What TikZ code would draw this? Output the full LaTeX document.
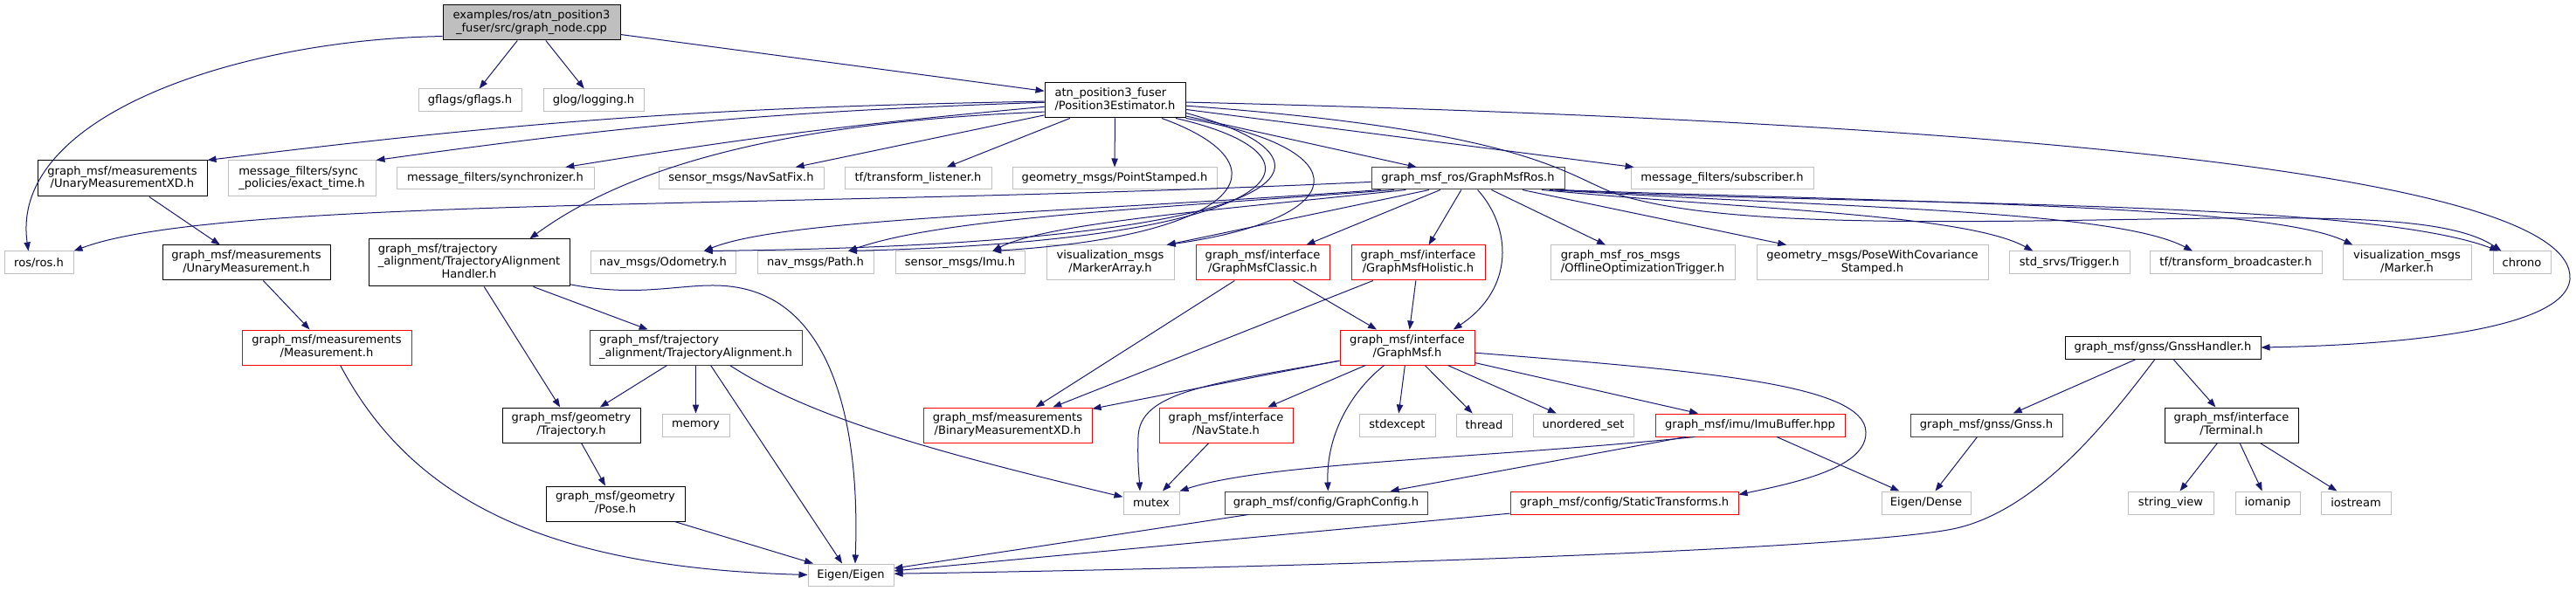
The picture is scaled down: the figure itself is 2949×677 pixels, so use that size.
\documentclass[tikz,border=0pt]{standalone}
\usepackage{fontspec}
\setmainfont{DejaVu Sans}
\usetikzlibrary{arrows.meta,calc}
\definecolor{edgec}{HTML}{191970}
\definecolor{lgrey}{HTML}{BFBFBF}
\definecolor{dgrey}{HTML}{404040}
\newcommand{\twol}[2]{\begin{tabular}{@{}l@{}}#1\\\multicolumn{1}{@{}c@{}}{#2}\end{tabular}}
\newcommand{\threel}[3]{\begin{tabular}{@{}l@{}}#1\\#2\\\multicolumn{1}{@{}c@{}}{#3}\end{tabular}}
\newcommand{\mkbox}[7]{\node[#2, minimum width={(#5-#3)*0.75pt}, minimum height={(#6-#4)*0.75pt}] (#1) at ({(#3+#5)/2},{(#4+#6)/2}) {#7};}
\tikzset{
  box/.style={draw, rectangle, inner sep=0pt, align=center, font=\fontsize{9.8}{11}\selectfont, line width=0.75pt},
  ext/.style={box, draw=lgrey},
  doc/.style={box, draw=black},
  dgr/.style={box, draw=dgrey},
  trunc/.style={box, draw=red},
  rootn/.style={box, draw=black, fill=lgrey},
  dep/.style={draw=edgec, line width=0.75pt, -{Triangle[length=7.5pt,width=5.5pt]}},
}
\begin{document}
\begin{tikzpicture}[x=0.75pt,y=-0.75pt]
\useasboundingbox (0,0) rectangle (2949,677);
\fill[white] (0,0) rectangle (2949,677);
% rank 0
\mkbox{root}{rootn}{507}{6}{710}{46}{\twol{examples/ros/atn\_position3}{\_fuser/src/graph\_node.cpp}}
% rank 1
\mkbox{gflags}{ext}{479}{102}{597}{128}{gflags/gflags.h}
\mkbox{glog}{ext}{622}{102}{737}{128}{glog/logging.h}
\mkbox{p3}{doc}{1196}{95}{1357}{135}{\twol{atn\_position3\_fuser}{/Position3Estimator.h}}
% rank 2
\mkbox{uxd}{doc}{43}{184}{237}{225}{\twol{graph\_msf/measurements}{/UnaryMeasurementXD.h}}
\mkbox{exact}{ext}{261}{184}{430}{225}{\twol{message\_filters/sync}{\_policies/exact\_time.h}}
\mkbox{sync}{ext}{454}{192}{680}{217}{message\_filters/synchronizer.h}
\mkbox{navsat}{ext}{754}{192}{943}{217}{sensor\_msgs/NavSatFix.h}
\mkbox{tfl}{ext}{967}{192}{1135}{217}{tf/transform\_listener.h}
\mkbox{pst}{ext}{1159}{192}{1393}{217}{geometry\_msgs/PointStamped.h}
\mkbox{ros}{dgr}{1570}{192}{1791}{217}{graph\_msf\_ros/GraphMsfRos.h}
\mkbox{sub}{ext}{1867}{192}{2076}{217}{message\_filters/subscriber.h}
% rank 3
\mkbox{rosh}{ext}{5}{288}{84}{314}{ros/ros.h}
\mkbox{um}{doc}{186}{281}{378}{321}{\twol{graph\_msf/measurements}{/UnaryMeasurement.h}}
\mkbox{tah}{doc}{422}{274}{652}{328}{\threel{graph\_msf/trajectory}{\_alignment/TrajectoryAlignment}{Handler.h}}
\mkbox{odom}{ext}{676}{288}{842}{314}{nav\_msgs/Odometry.h}
\mkbox{path}{ext}{867}{288}{1000}{314}{nav\_msgs/Path.h}
\mkbox{imu}{ext}{1025}{288}{1173}{314}{sensor\_msgs/Imu.h}
\mkbox{marr}{ext}{1198}{281}{1344}{321}{\twol{visualization\_msgs}{/MarkerArray.h}}
\mkbox{classic}{trunc}{1369}{281}{1522}{321}{\twol{graph\_msf/interface}{/GraphMsfClassic.h}}
\mkbox{holistic}{trunc}{1547}{281}{1700}{321}{\twol{graph\_msf/interface}{/GraphMsfHolistic.h}}
\mkbox{offl}{ext}{1775}{281}{1986}{321}{\twol{graph\_msf\_ros\_msgs}{/OfflineOptimizationTrigger.h}}
\mkbox{pwc}{ext}{2011}{281}{2276}{321}{\twol{geometry\_msgs/PoseWithCovariance}{Stamped.h}}
\mkbox{trig}{ext}{2300}{288}{2438}{314}{std\_srvs/Trigger.h}
\mkbox{tfb}{ext}{2461}{288}{2658}{314}{tf/transform\_broadcaster.h}
\mkbox{mark}{ext}{2682}{281}{2829}{321}{\twol{visualization\_msgs}{/Marker.h}}
\mkbox{chrono}{ext}{2854}{288}{2920}{314}{chrono}
% rank 4
\mkbox{meas}{trunc}{277}{378}{471}{418}{\twol{graph\_msf/measurements}{/Measurement.h}}
\mkbox{ta}{dgr}{675}{378}{918}{418}{\twol{graph\_msf/trajectory}{\_alignment/TrajectoryAlignment.h}}
\mkbox{gmsf}{trunc}{1534}{378}{1688}{418}{\twol{graph\_msf/interface}{/GraphMsf.h}}
\mkbox{gnssh}{doc}{2364}{385}{2588}{411}{graph\_msf/gnss/GnssHandler.h}
% rank 5
\mkbox{traj}{doc}{575}{467}{733}{507}{\twol{graph\_msf/geometry}{/Trajectory.h}}
\mkbox{memory}{ext}{758}{474}{835}{500}{memory}
\mkbox{bmxd}{trunc}{1057}{467}{1250}{507}{\twol{graph\_msf/measurements}{/BinaryMeasurementXD.h}}
\mkbox{navst}{trunc}{1327}{467}{1480}{507}{\twol{graph\_msf/interface}{/NavState.h}}
\mkbox{stdexc}{ext}{1556}{474}{1643}{500}{stdexcept}
\mkbox{thread}{ext}{1667}{474}{1731}{500}{thread}
\mkbox{uset}{ext}{1755}{474}{1870}{500}{unordered\_set}
\mkbox{imub}{trunc}{1895}{474}{2112}{500}{graph\_msf/imu/ImuBuffer.hpp}
\mkbox{gnss}{dgr}{2187}{474}{2361}{500}{graph\_msf/gnss/Gnss.h}
\mkbox{term}{doc}{2478}{467}{2631}{507}{\twol{graph\_msf/interface}{/Terminal.h}}
% rank 6
\mkbox{pose}{doc}{625}{557}{784}{597}{\twol{graph\_msf/geometry}{/Pose.h}}
\mkbox{mutex}{ext}{1286}{563}{1350}{589}{mutex}
\mkbox{gcfg}{dgr}{1402}{563}{1634}{589}{graph\_msf/config/GraphConfig.h}
\mkbox{stf}{trunc}{1729}{563}{1990}{589}{graph\_msf/config/StaticTransforms.h}
\mkbox{edense}{ext}{2154}{563}{2256}{589}{Eigen/Dense}
\mkbox{sview}{ext}{2436}{563}{2534}{589}{string\_view}
\mkbox{iomanip}{ext}{2559}{563}{2633}{589}{iomanip}
\mkbox{iostream}{ext}{2657}{563}{2737}{589}{iostream}
% rank 7
\mkbox{eigen}{ext}{925}{646}{1023}{671}{Eigen/Eigen}

% ---- edges from root
\draw[dep] ($(root.south west)!0.12!(root.north west)$) .. controls (280,45) and (10,130) .. ($(rosh.north west)!0.35!(rosh.north east)$);
\draw[dep] (root) -- (gflags);
\draw[dep] (root) -- (glog);
\draw[dep] (root) -- (p3);

% ---- edges from Position3Estimator
\draw[dep] (p3) to[bend right=3] (uxd.north east);
\draw[dep] (p3) to[bend right=3] (exact.north east);
\draw[dep] (p3) to[bend right=2] (sync);
\draw[dep] (p3) -- (navsat);
\draw[dep] (p3) -- (tfl);
\draw[dep] (p3) -- (pst);
\draw[dep] (p3) -- (ros);
\draw[dep] (p3) -- (sub);
\draw[dep] ($(p3.south west)!0.18!(p3.north west)$) .. controls (900,140) and (720,190) .. ($(tah.north east)!0.2!(tah.north west)$);
\draw[dep] ($(p3.south west)!0.83!(p3.south east)$) .. controls (1480,190) and (1420,270) .. ($(imu.north east)!0.25!(imu.north west)$);
\draw[dep] ($(p3.south west)!0.93!(p3.south east)$) .. controls (1540,180) and (1480,275) .. ($(path.north east)!0.22!(path.north west)$);
\draw[dep] ($(p3.south east)!0.15!(p3.north east)$) .. controls (1560,185) and (1500,280) .. ($(odom.north east)!0.22!(odom.north west)$);
\draw[dep] (p3.south east) .. controls (1560,170) and (1550,250) .. ($(marr.north east)!0.06!(marr.north west)$);
\draw[dep] ($(p3.north east)!0.65!(p3.south east)$) .. controls (1750,150) and (1790,200) .. (1850,222) .. controls (1950,255) and (2150,256) .. (2400,252) .. controls (2650,248) and (2800,245) .. ($(chrono.north west)!0.15!(chrono.north east)$);
\draw[dep] ($(p3.north east)!0.55!(p3.south east)$) .. controls (2300,140) and (2950,200) .. (2942,320) .. controls (2935,385) and (2700,396) .. (gnssh.east);

% ---- edges from GraphMsfRos
\draw[dep] ($(ros.south west)!0.35!(ros.north west)$) .. controls (900,240) and (250,225) .. (rosh.north east);
\draw[dep] ($(ros.south west)!0.05!(ros.south east)$) .. controls (1200,245) and (900,250) .. ($(odom.north east)!0.22!(odom.north west)$);
\draw[dep] ($(ros.south west)!0.12!(ros.south east)$) .. controls (1300,240) and (1080,250) .. ($(path.north east)!0.22!(path.north west)$);
\draw[dep] ($(ros.south west)!0.18!(ros.south east)$) .. controls (1400,240) and (1200,255) .. ($(imu.north east)!0.25!(imu.north west)$);
\draw[dep] ($(ros.south west)!0.3!(ros.south east)$) -- ($(marr.north east)!0.06!(marr.north west)$);
\draw[dep] (ros) -- (classic);
\draw[dep] (ros) -- (holistic);
\draw[dep] ($(ros.south west)!0.55!(ros.south east)$) .. controls (1730,260) and (1735,330) .. ($(gmsf.north west)!0.84!(gmsf.north east)$);
\draw[dep] (ros) -- (offl);
\draw[dep] (ros) -- (pwc);
\draw[dep] ($(ros.south east)!0.12!(ros.south west)$) .. controls (2000,240) and (2250,245) .. ($(trig.north west)!0.2!(trig.north east)$);
\draw[dep] ($(ros.south east)!0.08!(ros.south west)$) .. controls (2100,238) and (2420,240) .. ($(tfb.north west)!0.25!(tfb.north east)$);
\draw[dep] ($(ros.south east)!0.05!(ros.south west)$) .. controls (2200,232) and (2600,235) .. ($(mark.north west)!0.08!(mark.north east)$);
\draw[dep] ($(ros.south east)!0.03!(ros.south west)$) .. controls (2100,236) and (2700,226) .. ($(chrono.north west)!0.1!(chrono.north east)$);

% ---- interface headers
\draw[dep] (classic) -- (bmxd);
\draw[dep] (classic) -- (gmsf);
\draw[dep] (holistic) -- (bmxd);
\draw[dep] (holistic) -- (gmsf);

% ---- edges from GraphMsf
\draw[dep] (gmsf) -- (bmxd);
\draw[dep] ($(gmsf.south west)!0.125!(gmsf.north west)$) .. controls (1380,440) and (1305,450) .. (1303,500) .. controls (1302,530) and (1304,545) .. ($(mutex.north west)!0.3!(mutex.north east)$);
\draw[dep] (gmsf) -- (navst);
\draw[dep] ($(gmsf.south west)!0.33!(gmsf.south east)$) .. controls (1545,450) and (1518,500) .. ($(gcfg.north west)!0.51!(gcfg.north east)$);
\draw[dep] (gmsf) -- (stdexc);
\draw[dep] (gmsf) -- (thread);
\draw[dep] (gmsf) -- (uset);
\draw[dep] (gmsf) -- (imub);
\draw[dep] ($(gmsf.north east)!0.65!(gmsf.south east)$) .. controls (1950,425) and (2135,440) .. (2136,495) .. controls (2137,535) and (2060,552) .. ($(stf.north east)!0.15!(stf.south east)$);

\draw[dep] (navst) -- (mutex);
\draw[dep] ($(imub.south west)!0.21!(imub.south east)$) .. controls (1700,525) and (1450,530) .. (mutex.north east);
\draw[dep] (imub) -- (gcfg);
\draw[dep] (imub) -- (edense);
\draw[dep] (gcfg) -- (eigen);
\draw[dep] (stf) -- (eigen);

% ---- GNSS
\draw[dep] ($(gnssh.south west)!0.46!(gnssh.south east)$) .. controls (2415,480) and (2330,590) .. (2230,607) .. controls (2100,630) and (1500,650) .. ($(eigen.north east)!0.45!(eigen.south east)$);
\draw[dep] (gnssh) -- (gnss);
\draw[dep] (gnssh) -- (term);
\draw[dep] (gnss) -- (edense);
\draw[dep] (term) -- (sview);
\draw[dep] (term) -- (iomanip);
\draw[dep] (term) -- (iostream);

% ---- left part
\draw[dep] (uxd) -- (um);
\draw[dep] (um) -- (meas);
\draw[dep] ($(meas.south west)!0.58!(meas.south east)$) .. controls (470,570) and (620,650) .. (eigen.west);
\draw[dep] (tah) -- (traj);
\draw[dep] (tah) -- (ta);
\draw[dep] ($(tah.south east)!0.05!(tah.north east)$) .. controls (750,345) and (800,315) .. (860,333) .. controls (950,360) and (985,480) .. ($(eigen.north west)!0.55!(eigen.north east)$);
\draw[dep] (ta) -- (traj);
\draw[dep] (ta) -- (memory);
\draw[dep] ($(ta.south west)!0.57!(ta.south east)$) -- ($(eigen.north west)!0.4!(eigen.north east)$);
\draw[dep] ($(ta.south west)!0.66!(ta.south east)$) .. controls (930,480) and (1080,520) .. ($(mutex.north west)!0.25!(mutex.south west)$);
\draw[dep] (traj) -- (pose);
\draw[dep] (pose) -- (eigen);
\end{tikzpicture}
\end{document}
